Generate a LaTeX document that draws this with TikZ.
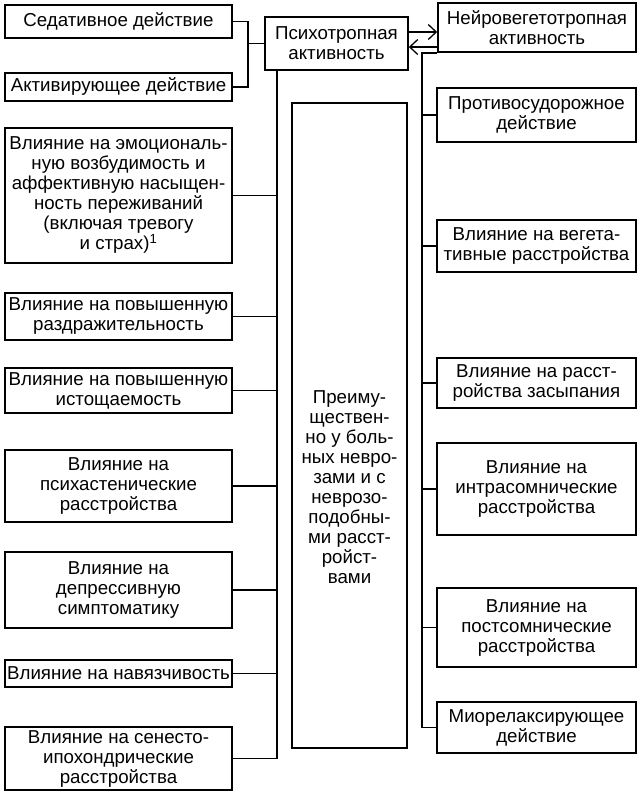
\documentclass[tikz,border=0pt]{standalone}
\usepackage{fontspec}
\setmainfont{Liberation Sans}
\usetikzlibrary{arrows.meta}
\begin{document}
\begin{tikzpicture}[x=1pt,y=-1pt,
  txt/.style={align=center, inner sep=1pt, font=\fontsize{18.7}{20}\selectfont},
  box/.style={txt, draw, line width=1.6pt},
  lbox/.style={box, minimum width=227pt},
  rbox/.style={box, minimum width=199pt},
  conn/.style={line width=1.6pt},
  arr/.style={conn, -{Straight Barb[length=8pt,width=15pt,line width=1.3pt]}}]
\useasboundingbox (0,0) rectangle (643,800);
% top nodes
\node[box, minimum width=143pt, minimum height=53pt] (ps) at (336.5,43.5) {Психотропная\\активность};
\node[box, minimum width=198pt, minimum height=49pt] (nv) at (537,27.5) {Нейровегетотропная\\активность};
% left column
\node[lbox, minimum height=33pt] (l1) at (118.5,21.5) {Седативное действие};
\node[lbox, minimum height=28pt] (l2) at (118.5,87) {Активирующее действие};
\node[lbox, minimum height=135pt] (l3) at (118.5,195.5) {Влияние на эмоциональ-\\ную возбудимость и\\аффективную насыщен-\\ность переживаний\\(включая тревогу\\и страх)\textsuperscript{1}};
\node[lbox, minimum height=47pt] (l4) at (118.5,316.5) {Влияние на повышенную\\раздражительность};
\node[lbox, minimum height=45pt] (l5) at (118.5,390.5) {Влияние на повышенную\\истощаемость};
\node[lbox, minimum height=72pt] (l6) at (118.5,486) {Влияние на\\психастенические\\расстройства};
\node[lbox, minimum height=76pt] (l7) at (118.5,590) {Влияние на\\депрессивную\\симптоматику};
\node[lbox, minimum height=27pt] (l8) at (118.5,673.5) {Влияние на навязчивость};
\node[lbox, minimum height=63pt] (l9) at (118.5,758.5) {Влияние на сенесто-\\ипохондрические\\расстройства};
% right column
\node[rbox, minimum height=54pt] (r1) at (536.5,115) {Противосудорожное\\действие};
\node[rbox, minimum height=52pt] (r2) at (536.5,246) {Влияние на вегета-\\тивные расстройства};
\node[rbox, minimum height=50pt] (r3) at (536.5,383) {Влияние на расст-\\ройства засыпания};
\node[rbox, minimum height=92pt] (r4) at (536.5,489) {Влияние на\\интрасомнические\\расстройства};
\node[rbox, minimum height=79pt] (r5) at (536.5,627.5) {Влияние на\\постсомнические\\расстройства};
\node[rbox, minimum height=51pt] (r6) at (536.5,727.5) {Миорелаксирующее\\действие};
% middle
\node[draw, line width=1.6pt, minimum width=115pt, minimum height=645pt] (mid) at (349.5,425.5) {};
\node[txt] (midtext) at (349.5,487) {Преиму-\\ществен-\\но у боль-\\ных невро-\\зами и с\\неврозо-\\подобны-\\ми расст-\\ройст-\\вами};
% connectors top left
\coordinate (tl) at (248,0);
\draw[conn] (l1.east) -| (tl |- ps.west) |- (l2.east);
\draw[conn] (tl |- ps.west) -- (ps.west);
% left bus
\coordinate (lb) at (277,0);
\draw[conn] (lb |- ps.south) -- (lb |- l9.east);
\foreach \n in {l3,l4,l5,l6,l7,l8,l9} \draw[conn] (\n.east) -- (lb |- \n.east);
% right bus
\coordinate (rb) at (422,0);
\draw[conn] (nv.south west) -- (rb |- nv.south west) -- (rb |- r6.west);
\foreach \n in {r1,r2,r3,r4,r5,r6} \draw[conn] (\n.west) -- (rb |- \n.west);
% arrows between top nodes
\draw[arr] ([yshift=11.5pt]ps.east) -- ([yshift=11.5pt]ps.east -| nv.west);
\draw[arr] ([yshift=-3.5pt]ps.east -| nv.west) -- ([yshift=-3.5pt]ps.east);
\end{tikzpicture}
\end{document}
